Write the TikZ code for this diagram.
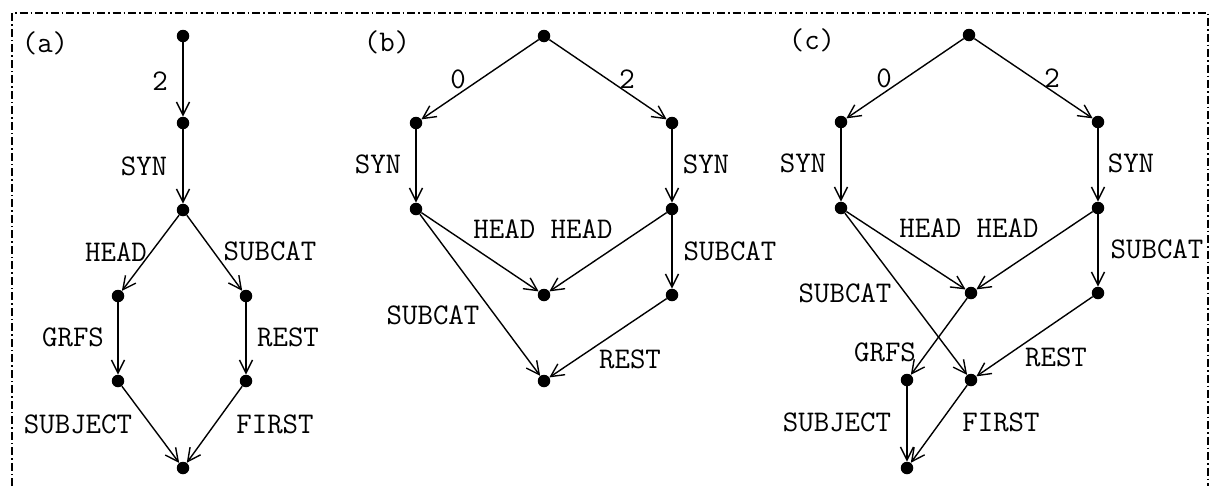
\documentclass[tikz,border=0pt]{standalone}
\usepackage{fontspec}
\usetikzlibrary{arrows.meta}
\begin{document}
\begin{tikzpicture}[x=1pt,y=-1pt,
  pt/.style={circle,fill=black,inner sep=0pt,minimum size=12.5pt},
  lbl/.style={font=\fontsize{30}{32}\selectfont\ttfamily\addfontfeatures{FakeBold=0.7},inner sep=0pt},
  arc/.style={line width=1.4pt,-{Straight Barb[length=13pt,width=13pt]}},
  frame/.style={line width=1.5pt,dash pattern=on 8pt off 3pt on 1.5pt off 3pt},
]
\useasboundingbox (0,0) rectangle (1216,488);

% dash-dotted frame
\coordinate (fbl) at (12,486);
\coordinate (ftl) at (12,13);
\coordinate (ftr) at (1208,13);
\coordinate (fbr) at (1208,486);
\draw[frame] (fbl) -- (ftl) -- (ftr) -- (fbr);

% ---------------- (a)
\node[lbl] (ta) at (45,43) {(a)};
\node[pt] (a0) at (183,36) {};
\node[pt] (a1) at (183,123) {};
\node[pt] (a2) at (183,210) {};
\node[pt] (a3) at (118,296) {};
\node[pt] (a4) at (246,296) {};
\node[pt] (a5) at (118,381) {};
\node[pt] (a6) at (246,381) {};
\node[pt] (a7) at (183,468) {};
\draw[arc] (a0) -- (a1);
\draw[arc] (a1) -- (a2);
\draw[arc] (a2) -- (a3);
\draw[arc] (a2) -- (a4);
\draw[arc] (a3) -- (a5);
\draw[arc] (a4) -- (a6);
\draw[arc] (a5) -- (a7);
\draw[arc] (a6) -- (a7);
\node[lbl] (la1) at (160,81) {2};
\node[lbl] (la2) at (144,166) {SYN};
\node[lbl] (la3) at (116,252) {HEAD};
\node[lbl] (la4) at (270,251) {SUBCAT};
\node[lbl] (la5) at (73,337) {GRFS};
\node[lbl] (la6) at (288,337) {REST};
\node[lbl] (la7) at (78,424) {SUBJECT};
\node[lbl] (la8) at (275,424) {FIRST};

% ---------------- (b)
\node[lbl] (tb) at (387,42) {(b)};
\node[pt] (b0) at (544,36) {};
\node[pt] (b1) at (416,123) {};
\node[pt] (b2) at (672,123) {};
\node[pt] (b3) at (416,209) {};
\node[pt] (b4) at (672,209) {};
\node[pt] (b5) at (544,295) {};
\node[pt] (b6) at (672,295) {};
\node[pt] (b7) at (544,381) {};
\draw[arc] (b0) -- (b1);
\draw[arc] (b0) -- (b2);
\draw[arc] (b1) -- (b3);
\draw[arc] (b2) -- (b4);
\draw[arc] (b3) -- (b5);
\draw[arc] (b4) -- (b5);
\draw[arc] (b4) -- (b6);
\draw[arc] (b3) -- (b7);
\draw[arc] (b6) -- (b7);
\node[lbl] (lb1) at (458,79) {0};
\node[lbl] (lb2) at (627,79) {2};
\node[lbl] (lb3) at (378,164) {SYN};
\node[lbl] (lb4) at (706,164) {SYN};
\node[lbl] (lb5) at (543,229) {HEAD HEAD};
\node[lbl] (lb6) at (730,251) {SUBCAT};
\node[lbl] (lb7) at (433,315) {SUBCAT};
\node[lbl] (lb8) at (630,359) {REST};

% ---------------- (c)
\node[lbl] (tc) at (812,40) {(c)};
\node[pt] (c0) at (969,35) {};
\node[pt] (c1) at (841,122) {};
\node[pt] (c2) at (1098,122) {};
\node[pt] (c3) at (841,208) {};
\node[pt] (c4) at (1098,208) {};
\node[pt] (c5) at (971,293) {};
\node[pt] (c6) at (1098,293) {};
\node[pt] (c7) at (907,380) {};
\node[pt] (c8) at (971,380) {};
\node[pt] (c9) at (907,468) {};
\draw[arc] (c0) -- (c1);
\draw[arc] (c0) -- (c2);
\draw[arc] (c1) -- (c3);
\draw[arc] (c2) -- (c4);
\draw[arc] (c3) -- (c5);
\draw[arc] (c4) -- (c5);
\draw[arc] (c4) -- (c6);
\draw[arc] (c3) -- (c8);
\draw[arc] (c5) -- (c7);
\draw[arc] (c6) -- (c8);
\draw[arc] (c7) -- (c9);
\draw[arc] (c8) -- (c9);
\node[lbl] (lc1) at (884,78) {0};
\node[lbl] (lc2) at (1052,78) {2};
\node[lbl] (lc3) at (803,163) {SYN};
\node[lbl] (lc4) at (1131,163) {SYN};
\node[lbl] (lc5) at (969,228) {HEAD HEAD};
\node[lbl] (lc6) at (1157,249) {SUBCAT};
\node[lbl] (lc7) at (845,293) {SUBCAT};
\node[lbl] (lc8) at (885,352) {GRFS};
\node[lbl] (lc9) at (1056,357) {REST};
\node[lbl] (lc10) at (837,422) {SUBJECT};
\node[lbl] (lc11) at (1001,422) {FIRST};
\end{tikzpicture}
\end{document}
